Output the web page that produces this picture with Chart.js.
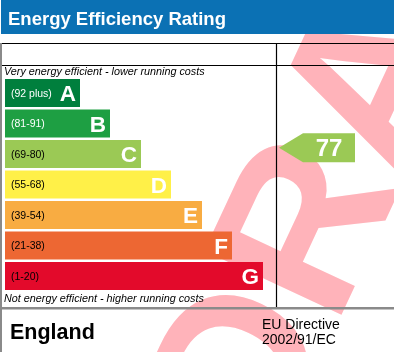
<!DOCTYPE html>
<html>
<head>
<meta charset="utf-8">
<script src="https://cdn.jsdelivr.net/npm/chart.js@4"></script>
<style>
  html, body { margin: 0; padding: 0; background: #fff; }
  #wrap { width: 394px; height: 352px; position: relative; }
</style>
</head>
<body>
<div id="wrap"><canvas id="epc"></canvas></div>
<script>
// Bands of the rating scale
const bands = ["A", "B", "C", "D", "E", "F", "G"];
const rangeLabels = ["(92 plus)", "(81-91)", "(69-80)", "(55-68)", "(39-54)", "(21-38)", "(1-20)"];
const rangeLow = [92, 81, 69, 55, 39, 21, 1];
const rangeHigh = [100, 91, 80, 68, 54, 38, 20];
// Bar lengths
const barLengths = [75, 105, 136, 166, 197, 227, 258];
const bandColors = ["#007f3d", "#1e9f43", "#9bc955", "#fff048", "#f8ac42", "#ed6733", "#e30a2b"];
const rangeTextColors = ["#fff", "#fff", "#000", "#000", "#000", "#000", "#000"];

const currentRating = 77;
const titleText = "Energy Efficiency Rating";
const topNote = "Very energy efficient - lower running costs";
const bottomNote = "Not energy efficient - higher running costs";
const countryText = "England";
const directiveLines = ["EU Directive", "2002/91/EC"];
const watermarkText = "DRAFT";

const FONT = '"Liberation Sans", Arial, sans-serif';

// Background, watermark and header drawn under everything
const backgroundPlugin = {
  id: "background",
  beforeDraw(chart) {
    const ctx = chart.ctx;
    const W = chart.width, H = chart.height;
    ctx.save();
    ctx.fillStyle = "#fff";
    ctx.fillRect(0, 0, W, H);

    // watermark
    ctx.save();
    ctx.translate(268, 472);
    ctx.rotate(-65 * Math.PI / 180);
    ctx.font = "bold 220px " + FONT;
    ctx.fillStyle = "#ffb3ba";
    ctx.textBaseline = "alphabetic";
    ctx.fillText(watermarkText, 0, 0);
    ctx.restore();

    // blue header
    ctx.fillStyle = "#0b71b4";
    ctx.fillRect(1, 0, W - 1, 34);
    ctx.fillStyle = "#fff";
    ctx.font = "bold 18.5px " + FONT;
    ctx.textBaseline = "alphabetic";
    ctx.fillText(titleText, 8, 24.5);
    ctx.restore();
  }
};

// Labels on bars, rating arrow and table frame
const overlayPlugin = {
  id: "overlay",
  afterDatasetsDraw(chart) {
    const ctx = chart.ctx;
    const W = chart.width;
    const meta = chart.getDatasetMeta(0);
    const yScale = chart.scales.y;
    ctx.save();

    meta.data.forEach((bar, i) => {
      const yc = bar.y;
      ctx.textBaseline = "middle";
      ctx.textAlign = "left";
      ctx.font = "10.5px " + FONT;
      ctx.fillStyle = rangeTextColors[i];
      ctx.fillText(rangeLabels[i], 11, yc + 1);

      ctx.textAlign = "right";
      ctx.textBaseline = "alphabetic";
      ctx.font = "bold 22.5px " + FONT;
      ctx.fillStyle = "#fff";
      ctx.fillText(bands[i], bar.x - 4, yc + 8);
    });

    // current rating arrow
    let idx = rangeLow.findIndex((lo, i) => currentRating >= lo && currentRating <= rangeHigh[i]);
    const frac = (currentRating - rangeLow[idx] + 0.5) / (rangeHigh[idx] - rangeLow[idx] + 1);
    const step = yScale.getPixelForValue(1) - yScale.getPixelForValue(0);
    const ay = yScale.getPixelForValue(idx) + (0.5 - frac) * step;
    const tipX = 279, bodyX = 303, rightX = 355, half = 14.5;
    ctx.fillStyle = bandColors[idx];
    ctx.beginPath();
    ctx.moveTo(tipX, ay);
    ctx.lineTo(bodyX, ay - half);
    ctx.lineTo(rightX, ay - half);
    ctx.lineTo(rightX, ay + half);
    ctx.lineTo(bodyX, ay + half);
    ctx.closePath();
    ctx.fill();
    ctx.fillStyle = "#fff";
    ctx.font = "bold 24px " + FONT;
    ctx.textAlign = "center";
    ctx.textBaseline = "alphabetic";
    ctx.fillText(String(currentRating), 329, ay + 8.5);

    // table frame
    ctx.strokeStyle = "#000";
    ctx.lineWidth = 1.2;
    ctx.beginPath();
    ctx.moveTo(0, 43.5); ctx.lineTo(W, 43.5);
    ctx.moveTo(0, 65.5); ctx.lineTo(W, 65.5);
    ctx.moveTo(276.5, 43.5); ctx.lineTo(276.5, 307);
    ctx.stroke();

    ctx.fillStyle = "#8a8a8a";
    ctx.fillRect(0, 43, 2, chart.height - 43);
    ctx.fillRect(0, 307, W, 2.5);

    // notes
    ctx.fillStyle = "#000";
    ctx.textAlign = "left";
    ctx.textBaseline = "alphabetic";
    ctx.font = "italic 10.8px " + FONT;
    ctx.fillText(topNote, 4, 75);
    ctx.fillText(bottomNote, 4, 302);

    // footer
    ctx.font = "bold 21.5px " + FONT;
    ctx.fillText(countryText, 10, 339);
    ctx.font = "14px " + FONT;
    ctx.fillText(directiveLines[0], 262, 329);
    ctx.fillText(directiveLines[1], 262, 343.5);
    ctx.restore();
  }
};

new Chart(document.getElementById("epc"), {
  type: "bar",
  data: {
    labels: bands,
    datasets: [{
      data: barLengths,
      backgroundColor: bandColors,
      borderWidth: 0,
      barPercentage: 0.918,
      categoryPercentage: 1
    }]
  },
  options: {
    indexAxis: "y",
    responsive: true,
    maintainAspectRatio: false,
    animation: false,
    layout: { padding: { left: 5, right: 118, top: 77.75, bottom: 60.75 } },
    plugins: { legend: { display: false }, tooltip: { enabled: false } },
    scales: {
      x: { display: false, min: 0, max: 271 },
      y: { display: false }
    }
  },
  plugins: [backgroundPlugin, overlayPlugin]
});
</script>
</body>
</html>
